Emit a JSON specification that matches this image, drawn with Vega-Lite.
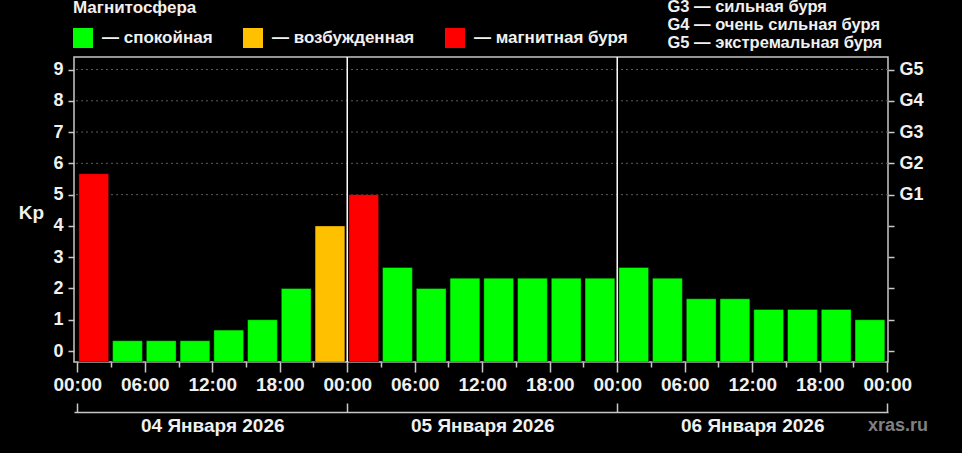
{
  "$schema": "https://vega.github.io/schema/vega-lite/v6.json",
  "width": 814,
  "height": 305,
  "autosize": {"type": "none"},
  "padding": {"left": 74, "top": 57, "right": 74, "bottom": 91},
  "background": "#000000",
  "config": {
    "view": {"stroke": "#c8c8c8", "strokeWidth": 1.5},
    "font": "Liberation Sans",
    "axis": {
      "labelFont": "Liberation Sans",
      "labelFontWeight": "bold",
      "labelFontSize": 19,
      "labelColor": "#f0f0f0",
      "tickColor": "#c8c8c8",
      "tickWidth": 1.5,
      "domainColor": "#c8c8c8",
      "domainWidth": 1.5,
      "grid": false,
      "titleColor": "#f0f0f0",
      "titleFont": "Liberation Sans"
    },
    "legend": {
      "labelFont": "Liberation Sans",
      "labelFontWeight": "bold",
      "labelColor": "#f0f0f0",
      "titleColor": "#f0f0f0",
      "titleFont": "Liberation Sans"
    }
  },
  "title": {
    "text": "xras.ru",
    "orient": "bottom",
    "anchor": "end",
    "frame": "group",
    "offset": 0,
    "dy": -18,
    "dx": 40,
    "color": "#808080",
    "fontSize": 18,
    "fontWeight": "bold",
    "font": "Liberation Sans"
  },
  "layer": [
    {
      "data": {"values": [
        {"kp": 5, "desc": "G1 — слабая буря"},
        {"kp": 6, "desc": "G2 — умеренная буря"},
        {"kp": 7, "desc": "G3 — сильная буря"},
        {"kp": 8, "desc": "G4 — очень сильная буря"},
        {"kp": 9, "desc": "G5 — экстремальная буря"}
      ]},
      "mark": {"type": "rule", "color": "#5a5a5a", "strokeWidth": 1},
      "encoding": {
        "y": {
          "field": "kp", "type": "quantitative",
          "scale": {"domain": [-0.35, 9.4], "nice": false, "zero": false},
          "axis": {
            "orient": "right", "values": [0,1,2,3,4,5,6,7,8,9], "domain": false,
            "tickSize": 6, "labelPadding": 5, "labelFontSize": 18, "title": null,
            "labelExpr": "datum.value >= 5 ? 'G' + (datum.value - 4) : ''",
            "labelOverlap": false, "labelFlush": false
          }
        },
        "strokeDash": {
          "field": "desc", "type": "nominal",
          "scale": {"range": [[2,3],[2,3],[2,3],[2,3],[2,3]]},
          "legend": {
            "orient": "none", "legendX": 577, "legendY": -95, "title": null,
            "symbolOpacity": 0, "symbolSize": 0, "symbolStrokeWidth": 0,
            "labelOffset": 0, "labelFontSize": 16.5, "rowPadding": 1.3, "labelLimit": 400
          }
        }
      }
    },
    {
      "data": {"values": [{"h": 24}, {"h": 48}]},
      "mark": {"type": "rule", "color": "#ffffff", "strokeWidth": 1.5},
      "encoding": {
        "x": {
          "field": "h", "type": "quantitative",
          "scale": {"domain": [-0.29, 72.07], "nice": false, "zero": false},
          "axis": {
            "orient": "bottom", "values": [0, 24, 48, 72], "offset": 50,
            "tickSize": -9, "domain": true, "title": null,
            "labelOffset": 135, "labelPadding": 13,
            "labelExpr": "datum.value == 0 ? '04 Января 2026' : datum.value == 24 ? '05 Января 2026' : datum.value == 48 ? '06 Января 2026' : ''",
            "labelOverlap": false, "labelFlush": false, "labelBound": false
          }
        }
      }
    },
    {
      "data": {"values": [
        {"start": 0, "end": 3, "kp": 5.67, "state": "магнитная буря"},
        {"start": 3, "end": 6, "kp": 0.33, "state": "спокойная"},
        {"start": 6, "end": 9, "kp": 0.33, "state": "спокойная"},
        {"start": 9, "end": 12, "kp": 0.33, "state": "спокойная"},
        {"start": 12, "end": 15, "kp": 0.67, "state": "спокойная"},
        {"start": 15, "end": 18, "kp": 1.0, "state": "спокойная"},
        {"start": 18, "end": 21, "kp": 2.0, "state": "спокойная"},
        {"start": 21, "end": 24, "kp": 4.0, "state": "возбужденная"},
        {"start": 24, "end": 27, "kp": 5.0, "state": "магнитная буря"},
        {"start": 27, "end": 30, "kp": 2.67, "state": "спокойная"},
        {"start": 30, "end": 33, "kp": 2.0, "state": "спокойная"},
        {"start": 33, "end": 36, "kp": 2.33, "state": "спокойная"},
        {"start": 36, "end": 39, "kp": 2.33, "state": "спокойная"},
        {"start": 39, "end": 42, "kp": 2.33, "state": "спокойная"},
        {"start": 42, "end": 45, "kp": 2.33, "state": "спокойная"},
        {"start": 45, "end": 48, "kp": 2.33, "state": "спокойная"},
        {"start": 48, "end": 51, "kp": 2.67, "state": "спокойная"},
        {"start": 51, "end": 54, "kp": 2.33, "state": "спокойная"},
        {"start": 54, "end": 57, "kp": 1.67, "state": "спокойная"},
        {"start": 57, "end": 60, "kp": 1.67, "state": "спокойная"},
        {"start": 60, "end": 63, "kp": 1.33, "state": "спокойная"},
        {"start": 63, "end": 66, "kp": 1.33, "state": "спокойная"},
        {"start": 66, "end": 69, "kp": 1.33, "state": "спокойная"},
        {"start": 69, "end": 72, "kp": 1.0, "state": "спокойная"}
      ]},
      "mark": {"type": "rect", "xOffset": 1.6, "x2Offset": -2.4, "stroke": "#000000", "strokeOpacity": 0.35, "strokeWidth": 1},
      "encoding": {
        "x": {
          "field": "start", "type": "quantitative",
          "scale": {"domain": [-0.29, 72.07], "nice": false, "zero": false},
          "axis": {
            "orient": "bottom", "values": [0,3,6,9,12,15,18,21,24,27,30,33,36,39,42,45,48,51,54,57,60,63,66,69,72],
            "domain": false, "title": null,
            "tickSize": {"condition": {"test": "datum.value % 6 === 0", "value": 10}, "value": 5},
            "labelExpr": "datum.value % 6 === 0 ? ((datum.value % 24 < 10 ? '0' : '') + (datum.value % 24) + ':00') : ''",
            "labelOverlap": false, "labelFlush": false, "labelBound": false, "labelPadding": 3
          }
        },
        "x2": {"field": "end"},
        "y": {
          "field": "kp", "type": "quantitative",
          "scale": {"domain": [-0.35, 9.4], "nice": false, "zero": false},
          "axis": {
            "orient": "left", "values": [0,1,2,3,4,5,6,7,8,9], "domain": false,
            "tickSize": 6, "labelPadding": 5, "labelFontSize": 18,
            "title": "Kp", "titleAngle": 0, "titleX": -43, "titleY": 155,
            "titleAlign": "center", "titleBaseline": "middle",
            "titleFontSize": 19, "titleFontWeight": "bold",
            "labelOverlap": false, "labelFlush": false
          }
        },
        "y2": {"datum": -0.35},
        "color": {
          "field": "state", "type": "nominal",
          "scale": {"domain": ["спокойная", "возбужденная", "магнитная буря"], "range": ["#00ff00", "#ffc000", "#ff0000"]},
          "legend": {
            "orient": "none", "direction": "horizontal", "legendX": -1, "legendY": -57,
            "title": "Магнитосфера", "titleFontSize": 17, "titleFontWeight": "bold", "titlePadding": 11,
            "labelFontSize": 17, "symbolType": "square", "symbolSize": 400,
            "symbolStrokeWidth": 0, "symbolOpacity": 1,
            "labelExpr": "'— ' + datum.label", "columnPadding": 30, "labelOffset": 9, "labelLimit": 300
          }
        }
      }
    }
  ],
  "resolve": {"axis": {"x": "independent", "y": "independent"}}
}
